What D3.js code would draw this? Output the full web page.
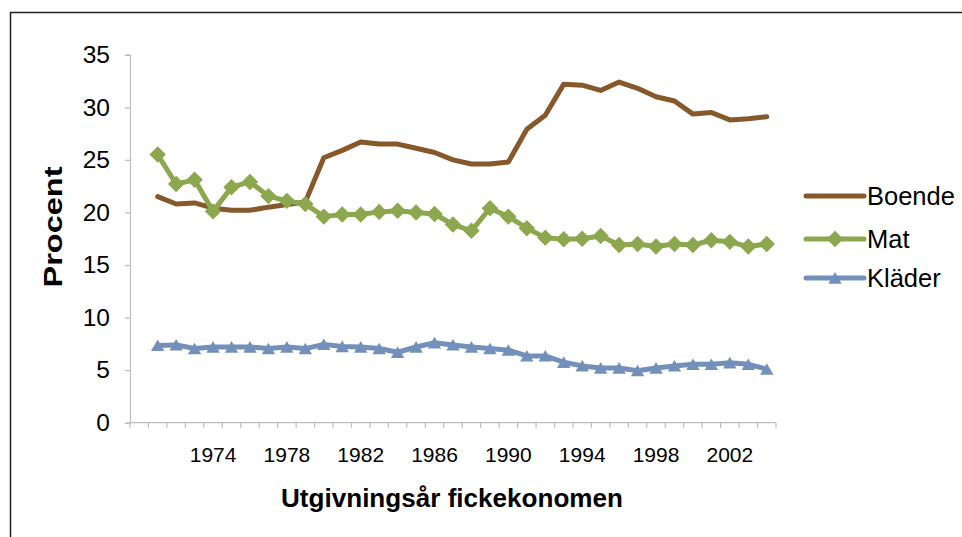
<!DOCTYPE html>
<html>
<head>
<meta charset="utf-8">
<script src="https://cdn.jsdelivr.net/npm/d3@7"></script>
<style>
  body { margin: 0; background: #fff; }
  svg { font-family: "Liberation Sans", Arial, sans-serif; }
</style>
</head>
<body>
<div id="chart"></div>
<script>
// categories on the x axis (first slot is empty in the source chart)
var categories = [1970, 1971, 1972, 1973, 1974, 1975, 1976, 1977, 1978, 1979,
  1980, 1981, 1982, 1983, 1984, 1985, 1986, 1987, 1988, 1989,
  1990, 1991, 1992, 1993, 1994, 1995, 1996, 1997, 1998, 1999,
  2000, 2001, 2002, 2003, 2004];
var years = categories.slice(1);
var labelYears = [1974, 1978, 1982, 1986, 1990, 1994, 1998, 2002];
var yTicks = [0, 5, 10, 15, 20, 25, 30, 35];

var boende = [21.5, 20.8, 20.9, 20.4, 20.2, 20.2, 20.5, 20.75, 21.0, 25.2,
  25.9, 26.7, 26.5, 26.5, 26.1, 25.7, 25.0, 24.6, 24.6, 24.8,
  27.9, 29.25, 32.2, 32.1, 31.6, 32.4, 31.8, 31.0, 30.6, 29.35,
  29.5, 28.8, 28.9, 29.1];
var mat = [25.5, 22.7, 23.1, 20.1, 22.4, 22.9, 21.55, 21.1, 20.8, 19.6,
  19.8, 19.8, 20.05, 20.15, 20.0, 19.85, 18.85, 18.25, 20.4, 19.6,
  18.5, 17.6, 17.45, 17.5, 17.75, 16.9, 17.0, 16.75, 17.0, 16.9,
  17.35, 17.2, 16.75, 17.0];
var klader = [7.35, 7.4, 7.05, 7.2, 7.2, 7.2, 7.05, 7.2, 7.05, 7.45,
  7.25, 7.2, 7.05, 6.7, 7.2, 7.6, 7.4, 7.2, 7.05, 6.9,
  6.35, 6.35, 5.75, 5.4, 5.2, 5.2, 4.95, 5.2, 5.4, 5.55,
  5.55, 5.7, 5.55, 5.1];

var seriesNames = ["Boende", "Mat", "Kläder"];
var seriesValues = [boende, mat, klader];
var colors = ["#87582A", "#8CA74E", "#7390BA"];
var markers = [null, "diamond", "triangle"];

var width = 962, height = 537;

var svg = d3.select("#chart")
  .append("svg")
  .attr("width", width)
  .attr("height", height);

// outer frame (runs off the right and bottom of the picture)
svg.append("rect")
  .attr("x", 10.5)
  .attr("y", 12.5)
  .attr("width", 970)
  .attr("height", 540)
  .attr("fill", "none")
  .attr("stroke", "#222")
  .attr("stroke-width", 1.5);

var x = d3.scaleBand()
  .domain(categories)
  .range([130, 776])
  .padding(0);

var y = d3.scaleLinear()
  .domain([0, 35])
  .range([422.7, 54.7]);

var cx = function (yr) { return x(yr) + x.bandwidth() / 2; };

// Y axis
var yAxis = svg.append("g")
  .attr("transform", "translate(130,0)")
  .call(d3.axisLeft(y).tickValues(yTicks).tickSize(5).tickPadding(15));
yAxis.select(".domain").attr("stroke", "#bdbdbd").attr("stroke-width", 1.2);
yAxis.selectAll(".tick line").attr("stroke", "#bdbdbd").attr("stroke-width", 1.2);
yAxis.selectAll("text")
  .attr("font-size", 24.5)
  .attr("font-family", "Liberation Sans, Arial, sans-serif")
  .attr("fill", "#000");

// X axis: line plus tick marks between categories
var xg = svg.append("g").attr("transform", "translate(0," + y(0) + ")");
xg.append("line")
  .attr("x1", x.range()[0]).attr("x2", x.range()[1])
  .attr("stroke", "#bdbdbd").attr("stroke-width", 1.2);
xg.selectAll(".tickmark")
  .data(categories.concat(["end"]))
  .enter()
  .append("line")
  .attr("class", "tickmark")
  .attr("x1", function (d) { return d === "end" ? x.range()[1] : x(d); })
  .attr("x2", function (d) { return d === "end" ? x.range()[1] : x(d); })
  .attr("y1", 0)
  .attr("y2", 5)
  .attr("stroke", "#bdbdbd")
  .attr("stroke-width", 1.2);

var xLabels = svg.append("g")
  .attr("transform", "translate(0," + y(0) + ")")
  .call(d3.axisBottom(x).tickValues(labelYears).tickSize(0));
xLabels.select(".domain").remove();
xLabels.selectAll("text")
  .attr("dy", null)
  .attr("y", 39)
  .attr("font-size", 21)
  .attr("font-family", "Liberation Sans, Arial, sans-serif")
  .attr("fill", "#000");

// axis titles
svg.append("text")
  .attr("x", 452)
  .attr("y", 507)
  .attr("text-anchor", "middle")
  .attr("font-size", 25)
  .attr("font-weight", "bold")
  .attr("textLength", 342)
  .attr("lengthAdjust", "spacingAndGlyphs")
  .text("Utgivningsår fickekonomen");

svg.append("text")
  .attr("transform", "translate(62,227) rotate(-90)")
  .attr("text-anchor", "middle")
  .attr("font-size", 25)
  .attr("font-weight", "bold")
  .attr("textLength", 121)
  .attr("lengthAdjust", "spacingAndGlyphs")
  .text("Procent");

var line = d3.line()
  .x(function (d) { return cx(d.year); })
  .y(function (d) { return y(d.value); });

var diamond = d3.symbol().type(d3.symbolSquare).size(135);
var triangle = d3.symbol().type(d3.symbolTriangle).size(78);

function drawMarker(g, type, color) {
  if (type === "diamond") {
    g.append("path").attr("d", diamond()).attr("transform", "rotate(45)").attr("fill", color);
  } else if (type === "triangle") {
    g.append("path").attr("d", triangle()).attr("transform", "translate(0,1.8)").attr("fill", color);
  }
}

seriesNames.forEach(function (name, i) {
  var pts = years.map(function (yr, j) { return { year: yr, value: seriesValues[i][j] }; });
  svg.append("path")
    .datum(pts)
    .attr("fill", "none")
    .attr("stroke", colors[i])
    .attr("stroke-width", 5)
    .attr("stroke-linejoin", "round")
    .attr("stroke-linecap", "round")
    .attr("d", line);

  if (markers[i]) {
    svg.append("g")
      .selectAll("g")
      .data(pts)
      .enter()
      .append("g")
      .attr("transform", function (d) { return "translate(" + cx(d.year) + "," + y(d.value) + ")"; })
      .each(function () { drawMarker(d3.select(this), markers[i], colors[i]); });
  }
});

// legend
var legendY = [196, 239, 278];
var legend = svg.append("g");
seriesNames.forEach(function (name, i) {
  var g = legend.append("g").attr("transform", "translate(0," + legendY[i] + ")");
  g.append("line")
    .attr("x1", 806).attr("x2", 864)
    .attr("stroke", colors[i])
    .attr("stroke-width", 5)
    .attr("stroke-linecap", "round");
  var m = g.append("g").attr("transform", "translate(835,0)");
  drawMarker(m, markers[i], colors[i]);
  g.append("text")
    .attr("x", 867)
    .attr("y", 0)
    .attr("dy", "0.35em")
    .attr("font-size", 25.5)
    .text(name);
});
</script>
</body>
</html>
